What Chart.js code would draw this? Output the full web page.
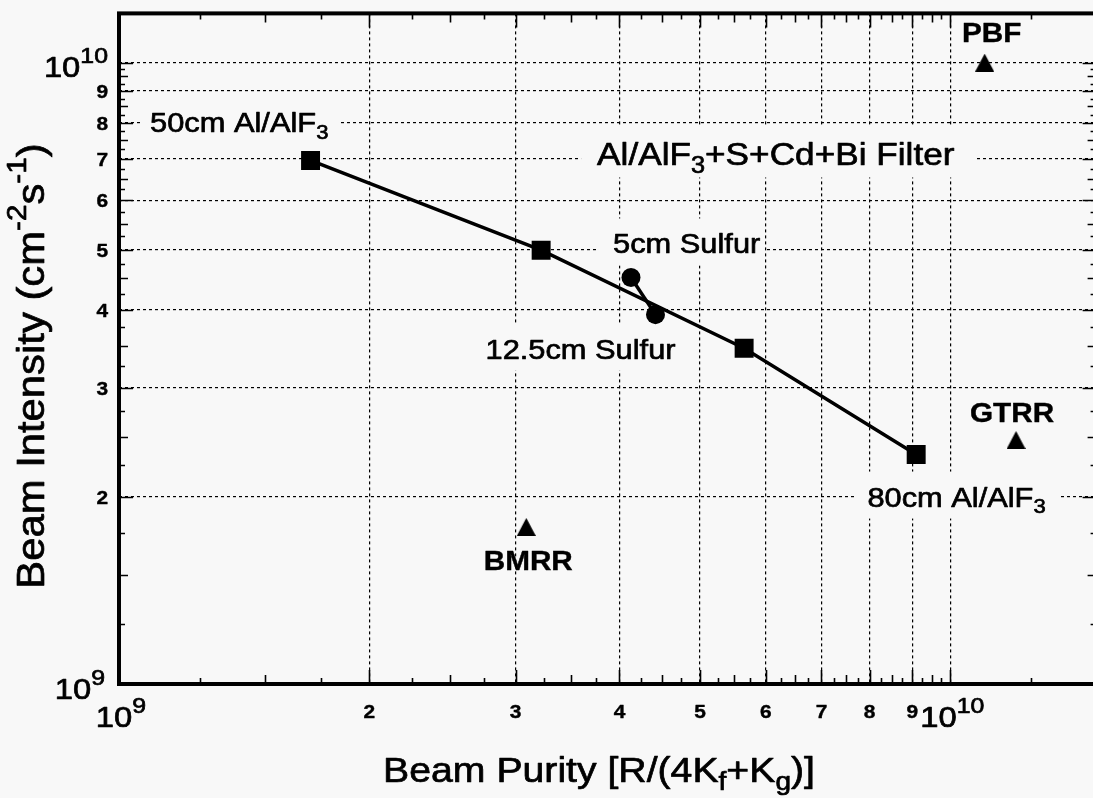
<!DOCTYPE html>
<html>
<head>
<title>Beam Intensity vs Beam Purity</title>
<script src="https://cdn.jsdelivr.net/npm/chart.js"></script>
<style>
  html, body { margin: 0; padding: 0; overflow: hidden; background: #f8f8f8; }
  #wrap { width: 1110px; height: 798px; }
</style>
</head>
<body>
<div id="wrap"><canvas id="chart" width="1110" height="798"></canvas></div>
<script>
// Al/AlF3 filter lengths (squares, joined by a line)
const filterPurity = [1.70e9, 3.22e9, 5.65e9, 9.1e9];
const filterIntensity = [6.96e9, 4.99e9, 3.47e9, 2.34e9];
// sulfur added (circles)
const sulfurPurity = [4.13e9, 4.42e9];
const sulfurIntensity = [4.51e9, 3.93e9];
// other reactors (triangles)
const reactorNames = ['PBF', 'GTRR', 'BMRR'];
const reactorPurity = [1.10e10, 1.20e10, 3.09e9];
const reactorIntensity = [1.0e10, 2.47e9, 1.79e9];

// text notes inside the plot, anchored at (left, baseline) in data units
const noteText = ['50cm Al/AlF_{3}', 'Al/AlF_{3}+S+Cd+Bi Filter', '5cm Sulfur', '12.5cm Sulfur', '80cm Al/AlF_{3}'];
const noteX = [1.09e9, 3.76e9, 3.93e9, 2.76e9, 7.95e9];
const noteY = [7.72e9, 6.83e9, 4.93e9, 3.34e9, 1.93e9];

// axes
const xRange = [1e9, 1.5e10];
const yRange = [1e9, 1.2e10];
const gridValues = [2e9, 3e9, 4e9, 5e9, 6e9, 7e9, 8e9, 9e9, 1e10];
const tickLabels = ['2', '3', '4', '5', '6', '7', '8', '9'];
const decadeValues = [1e9, 1e10];
const decadeLabels = ['10^{9}', '10^{10}'];
const xTitle = 'Beam Purity [R/(4K_{f}+K_{g})]';
const yTitle = 'Beam Intensity (cm^{-2}s^{-1})';

const FONT = 'Arial, "Liberation Sans", Helvetica, sans-serif';
const BG = '#f8f8f8';
const SX = 1.1; // scanned figure is a little wider than tall

const noteSize = [28, 32, 28, 28, 28];
const notePad = [[8, 12], [16, 20], [15, 4], [12, 12], [13, 15]];
const reactorDx = [7, -4, 2];
const reactorDy = [-21, -18, 43];

function font(size, weight) { return (weight || 'normal') + ' ' + size + 'px ' + FONT; }

// "_{..}" subscript, "^{..}" superscript
function rich(str, size, weight, supScale) {
  const out = [];
  const re = /_\{([^}]*)\}|\^\{([^}]*)\}|([^_^]+)/g;
  const ss = supScale || 0.72;
  let m;
  while ((m = re.exec(str))) {
    if (m[1] != null) out.push({ t: m[1], f: font(Math.round(size * ss), weight), dy: size * 0.22 });
    else if (m[2] != null) out.push({ t: m[2], f: font(Math.round(size * ss), weight), dy: -size * 0.48 });
    else out.push({ t: m[3], f: font(size, weight), dy: 0 });
  }
  return out;
}

function measure(c, parts) {
  let w = 0;
  parts.forEach(p => { c.font = p.f; p.w = c.measureText(p.t).width; w += p.w; });
  return w;
}

function drawRich(c, parts, x, y, align, sx, sy, heavy) {
  sx = sx || 1; sy = sy || 1;
  const w = measure(c, parts) * sx;
  const x0 = align === 'right' ? x - w : align === 'center' ? x - w / 2 : x;
  c.save();
  c.translate(x0, y);
  c.scale(sx, sy);
  c.textAlign = 'left';
  c.textBaseline = 'alphabetic';
  c.fillStyle = '#000';
  c.strokeStyle = '#000';
  c.lineWidth = heavy == null ? 0.7 : heavy;
  c.lineJoin = 'round';
  let px = 0;
  parts.forEach(p => {
    c.font = p.f;
    c.fillText(p.t, px, p.dy);
    if (c.lineWidth > 0) c.strokeText(p.t, px, p.dy);
    px += p.w;
  });
  c.restore();
  return w;
}

// triangle marker, a bit taller than equilateral
function triangleImage(w, h) {
  const cv = document.createElement('canvas');
  cv.width = w; cv.height = h;
  const c = cv.getContext('2d');
  c.fillStyle = '#000';
  c.beginPath();
  c.moveTo(w / 2, 0); c.lineTo(w, h); c.lineTo(0, h); c.closePath();
  c.fill();
  return cv;
}

const decor = {
  id: 'decor',
  beforeDraw(chart) {
    const c = chart.ctx;
    c.save();
    c.fillStyle = BG;
    c.fillRect(0, 0, chart.width, chart.height);
    c.restore();
  },
  beforeDatasetsDraw(chart) {
    // notes blank out the grid lines behind them
    const c = chart.ctx, xs = chart.scales.x, ys = chart.scales.y;
    c.save();
    c.fillStyle = BG;
    noteText.forEach((t, i) => {
      const px = xs.getPixelForValue(noteX[i]);
      const py = ys.getPixelForValue(noteY[i]);
      const w = measure(c, rich(t, noteSize[i])) * SX;
      const pad = notePad[i];
      c.fillRect(px - pad[0], py - noteSize[i] * 1.25, w + pad[0] + pad[1], noteSize[i] * 1.25 + 12);
    });
    c.restore();
  },
  afterDraw(chart) {
    const c = chart.ctx, xs = chart.scales.x, ys = chart.scales.y;
    const a = chart.chartArea;

    // frame
    c.save();
    c.strokeStyle = '#000';
    c.lineWidth = 4;
    c.strokeRect(a.left, a.top, a.right - a.left, a.bottom - a.top);

    // inward tick marks on all four sides
    c.lineWidth = 1.6;
    const steps = [];
    for (let k = 4; k < 40; k++) steps.push(k / 4);
    c.beginPath();
    [1e9, 1e10].forEach(dec => steps.forEach(s => {
      const v = dec * s;
      const len = Number.isInteger(s) ? 14 : (s % 1 === 0.5 ? 9 : 6);
      if (v > xRange[0] && v < xRange[1]) {
        const px = Math.round(xs.getPixelForValue(v)) + 0.5;
        c.moveTo(px, a.bottom); c.lineTo(px, a.bottom - len);
        c.moveTo(px, a.top); c.lineTo(px, a.top + len);
      }
      if (v > yRange[0] && v < yRange[1]) {
        const py = Math.round(ys.getPixelForValue(v)) + 0.5;
        c.moveTo(a.left, py); c.lineTo(a.left + len, py);
        c.moveTo(a.right, py); c.lineTo(a.right - len, py);
      }
    }));
    c.stroke();
    c.restore();

    // tick labels
    gridValues.slice(0, tickLabels.length).forEach((v, i) => {
      const p = [{ t: tickLabels[i], f: font(19, 'bold'), dy: 0 }];
      drawRich(c, p, xs.getPixelForValue(v), 718, 'center', SX, 1, 0.4);
      drawRich(c, p, 108, ys.getPixelForValue(v) + 7, 'right', SX, 1, 0.4);
    });
    decadeValues.forEach((v, i) => {
      const p = rich(decadeLabels[i], 29, 'normal', 0.75);
      drawRich(c, p, xs.getPixelForValue(v) + 2, 727, 'center', 1.13);
      drawRich(c, p, v === 1e9 ? 105 : 108, ys.getPixelForValue(v) + (v === 1e9 ? 15 : 14), 'right', 1.13);
    });

    // notes
    noteText.forEach((t, i) => {
      drawRich(c, rich(t, noteSize[i]), xs.getPixelForValue(noteX[i]), ys.getPixelForValue(noteY[i]), 'left', SX);
    });
    // reactor names
    reactorNames.forEach((n, i) => {
      drawRich(c, [{ t: n, f: font(27, 'bold'), dy: 0 }],
        xs.getPixelForValue(reactorPurity[i]) + reactorDx[i],
        ys.getPixelForValue(reactorIntensity[i]) + reactorDy[i], 'center', SX, 1, 0.4);
    });

    // axis titles
    drawRich(c, rich(xTitle, 35), 599, 782, 'center', 1.12);
    c.save();
    c.translate(44, 366);
    c.rotate(-Math.PI / 2);
    drawRich(c, rich(yTitle, 38), 0, 0, 'center', 1.1, 1);
    c.restore();
  }
};

function axis(range, isX) {
  return {
    type: 'logarithmic',
    min: range[0],
    max: range[1],
    ticks: { display: false },
    grid: { color: '#000', lineWidth: 1.2, drawTicks: false },
    border: { display: false, dash: [3, 3] },
    afterBuildTicks: s => { s.ticks = gridValues.map(v => ({ value: v })); },
    afterFit: s => { if (isX) s.height = 0; else s.width = 0; }
  };
}

const pts = (xs, ys) => xs.map((x, i) => ({ x: x, y: ys[i] }));

new Chart(document.getElementById('chart').getContext('2d'), {
  type: 'scatter',
  data: {
    datasets: [
      {
        data: pts(filterPurity, filterIntensity),
        showLine: true, borderColor: '#000', borderWidth: 3.5,
        pointStyle: 'rect', pointRadius: 13.4, pointBackgroundColor: '#000', pointBorderWidth: 0
      },
      {
        data: pts(sulfurPurity, sulfurIntensity),
        showLine: true, borderColor: '#000', borderWidth: 3.5,
        pointStyle: 'circle', pointRadius: 9.5, pointBackgroundColor: '#000', pointBorderWidth: 0
      },
      {
        data: pts(reactorPurity, reactorIntensity),
        showLine: false,
        pointStyle: triangleImage(19, 18), pointRadius: 9
      }
    ]
  },
  options: {
    responsive: false,
    animation: false,
    layout: { padding: { left: 119, right: 10, top: 12, bottom: 114 } },
    plugins: { legend: { display: false }, tooltip: { enabled: false } },
    scales: { x: axis(xRange, true), y: axis(yRange, false) }
  },
  plugins: [decor]
});
</script>
</body>
</html>
